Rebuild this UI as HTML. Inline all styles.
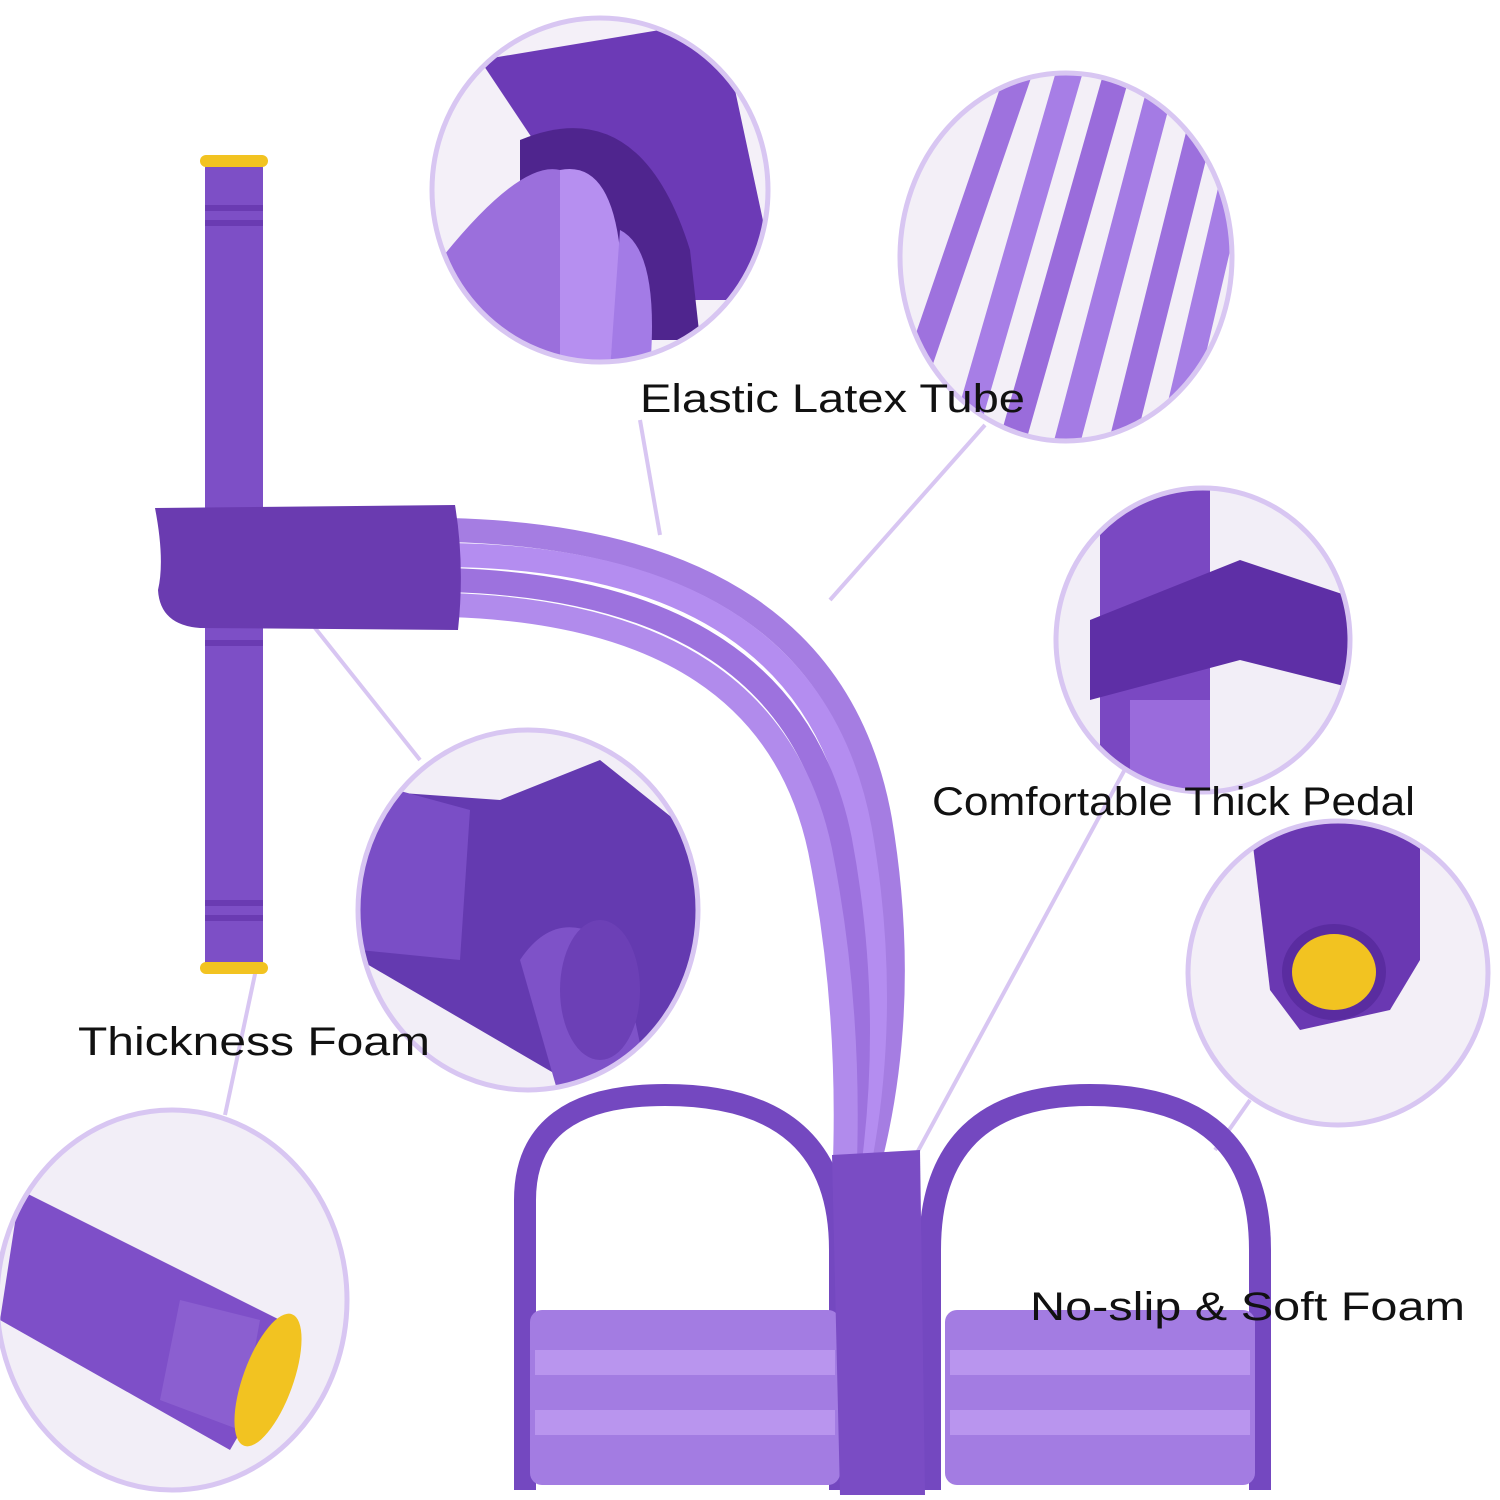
<!DOCTYPE html>
<html><head><meta charset="utf-8"><style>
html,body{margin:0;padding:0;background:#fff;width:1500px;height:1500px;overflow:hidden}
text{font-family:"Liberation Sans",sans-serif;font-size:40px;fill:#111}
</style></head><body>
<svg width="1500" height="1500" viewBox="0 0 1500 1500" xmlns="http://www.w3.org/2000/svg">
<defs>
<clipPath id="c1"><ellipse cx="600" cy="190" rx="168" ry="172"/></clipPath>
<clipPath id="c2"><ellipse cx="1066" cy="257" rx="166" ry="184"/></clipPath>
<clipPath id="c3"><ellipse cx="1203" cy="640" rx="147" ry="152"/></clipPath>
<clipPath id="c4"><ellipse cx="1338" cy="973" rx="150" ry="152"/></clipPath>
<clipPath id="c5"><ellipse cx="528" cy="910" rx="170" ry="180"/></clipPath>
<clipPath id="c6"><ellipse cx="172" cy="1300" rx="175" ry="190"/></clipPath>
</defs>
<rect width="1500" height="1500" fill="#fff"/>
<g stroke="#d8c6f2" stroke-width="4" fill="none">
<line x1="640" y1="420" x2="660" y2="535"/>
<line x1="985" y1="425" x2="830" y2="600"/>
<line x1="1130" y1="760" x2="905" y2="1175"/>
<line x1="1250" y1="1100" x2="1215" y2="1150"/>
<line x1="265" y1="565" x2="420" y2="760"/>
<line x1="258" y1="960" x2="225" y2="1115"/>
</g>
<g clip-path="url(#c1)">
<rect x="420" y="10" width="360" height="360" fill="#f4f0f8"/>
<path d="M480 60 L720 20 L780 300 L640 300 Z" fill="#6c3ab6"/>
<path d="M520 140 Q640 90 690 250 L700 340 L520 340 Z" fill="#4f258e"/>
<path d="M440 260 Q520 160 560 170 L560 370 L440 370 Z" fill="#9b6fdc"/>
<path d="M560 170 Q610 160 620 250 L610 370 L560 370 Z" fill="#b68ff0"/>
<path d="M620 230 Q660 250 650 370 L610 370 Z" fill="#a37be6"/>
</g>
<ellipse cx="600" cy="190" rx="168" ry="172" fill="none" stroke="#d8c6f2" stroke-width="5"/>
<g clip-path="url(#c2)">
<rect x="890" y="70" width="360" height="380" fill="#f3eff7"/>
<g stroke-width="26" fill="none">
<line x1="1020" y1="70" x2="900" y2="420" stroke="#9e72de"/>
<line x1="1070" y1="70" x2="960" y2="450" stroke="#a77ee6"/>
<line x1="1115" y1="80" x2="1010" y2="450" stroke="#9a6cdb"/>
<line x1="1160" y1="90" x2="1065" y2="450" stroke="#a47be4"/>
<line x1="1205" y1="110" x2="1120" y2="450" stroke="#9c70dd"/>
<line x1="1245" y1="130" x2="1170" y2="450" stroke="#a67ee5"/>
</g>
</g>
<ellipse cx="1066" cy="257" rx="166" ry="184" fill="none" stroke="#d8c6f2" stroke-width="5"/>
<g clip-path="url(#c3)">
<rect x="1050" y="480" width="310" height="320" fill="#f2eef7"/>
<rect x="1100" y="480" width="110" height="320" fill="#7a48c2"/>
<path d="M1090 620 L1240 560 L1360 600 L1360 690 L1240 660 L1090 700 Z" fill="#5e2fa6"/>
<rect x="1130" y="700" width="80" height="100" fill="#9a6bdc"/>
</g>
<ellipse cx="1203" cy="640" rx="147" ry="152" fill="none" stroke="#d8c6f2" stroke-width="5"/>
<g clip-path="url(#c4)">
<rect x="1185" y="820" width="310" height="310" fill="#f3eff7"/>
<path d="M1250 820 L1420 820 L1420 960 L1390 1010 L1300 1030 L1270 990 Z" fill="#6a38b2"/>
<ellipse cx="1334" cy="972" rx="52" ry="48" fill="#5a2ca0"/>
<ellipse cx="1334" cy="972" rx="42" ry="38" fill="#f2c321"/>
</g>
<ellipse cx="1338" cy="973" rx="150" ry="152" fill="none" stroke="#d8c6f2" stroke-width="5"/>
<g clip-path="url(#c5)">
<rect x="355" y="730" width="350" height="370" fill="#f2eef7"/>
<path d="M360 790 L500 800 L600 760 L700 840 L700 1000 L600 1100 L360 960 Z" fill="#643ab0"/>
<path d="M360 780 L470 810 L460 960 L360 950 Z" fill="#7a4ec6"/>
<path d="M520 960 Q560 900 620 950 L650 1090 L560 1100 Z" fill="#7e52c8"/>
<ellipse cx="600" cy="990" rx="40" ry="70" fill="#6c40b6"/>
</g>
<ellipse cx="528" cy="910" rx="170" ry="180" fill="none" stroke="#d8c6f2" stroke-width="5"/>
<g clip-path="url(#c6)">
<rect x="0" y="1110" width="350" height="390" fill="#f2eef7"/>
<path d="M20 1190 L300 1330 L230 1450 L0 1320 Z" fill="#7e4fc8"/>
<path d="M180 1300 L260 1320 L240 1430 L160 1400 Z" fill="#8b5fd0"/>
<ellipse cx="268" cy="1380" rx="25" ry="70" transform="rotate(20 268 1380)" fill="#f2c321"/>
</g>
<ellipse cx="172" cy="1300" rx="175" ry="190" fill="none" stroke="#d8c6f2" stroke-width="5"/>
<g fill="none" stroke-width="24">
<path d="M450 530 Q830 540 880 820 Q910 1000 870 1160" stroke="#a57de2"/>
<path d="M450 555 Q810 560 860 830 Q890 1000 860 1160" stroke="#b48df0"/>
<path d="M450 580 Q790 590 840 840 Q870 1000 850 1160" stroke="#9d72de"/>
<path d="M450 605 Q770 615 820 850 Q850 1000 845 1160" stroke="#b18bec"/>
</g>
<rect x="205" y="160" width="58" height="810" rx="8" fill="#7d4fc6"/>
<rect x="200" y="155" width="68" height="12" rx="6" fill="#f2c321"/>
<rect x="200" y="962" width="68" height="12" rx="6" fill="#f2c321"/>
<g fill="#6a3bb2"><rect x="205" y="205" width="58" height="6"/><rect x="205" y="220" width="58" height="6"/><rect x="205" y="640" width="58" height="6"/><rect x="205" y="900" width="58" height="6"/><rect x="205" y="915" width="58" height="6"/></g>
<path d="M155 508 L455 505 Q465 565 458 630 L200 628 Q160 625 158 590 Q165 560 155 508 Z" fill="#6a3bb0"/>
<g fill="none" stroke="#7448c0" stroke-width="22">
<path d="M525 1490 L525 1200 Q525 1095 665 1095 Q840 1095 840 1250 L840 1490"/>
<path d="M930 1490 L930 1250 Q930 1095 1090 1095 Q1260 1095 1260 1250 L1260 1490"/>
</g>
<rect x="530" y="1310" width="310" height="175" rx="12" fill="#a37ce2"/>
<rect x="945" y="1310" width="310" height="175" rx="12" fill="#a37ce2"/>
<g fill="#b995ee"><rect x="535" y="1350" width="300" height="25"/><rect x="535" y="1410" width="300" height="25"/><rect x="950" y="1350" width="300" height="25"/><rect x="950" y="1410" width="300" height="25"/></g>
<path d="M832 1155 L920 1150 L925 1495 L840 1495 Z" fill="#7a4cc4"/>
<text x="640" y="412" textLength="385" lengthAdjust="spacingAndGlyphs">Elastic Latex Tube</text>
<text x="932" y="815" textLength="483" lengthAdjust="spacingAndGlyphs">Comfortable Thick Pedal</text>
<text x="78" y="1055" textLength="352" lengthAdjust="spacingAndGlyphs">Thickness Foam</text>
<text x="1030" y="1320" textLength="435" lengthAdjust="spacingAndGlyphs">No-slip &amp; Soft Foam</text>
</svg>
</body></html>
